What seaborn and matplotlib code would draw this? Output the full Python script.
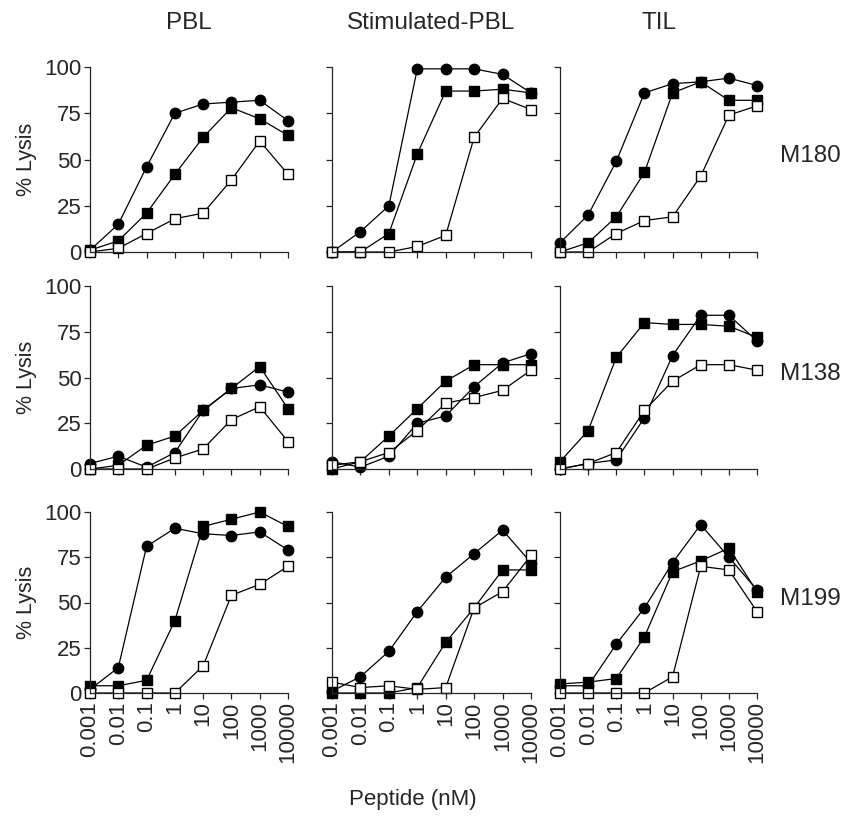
# peptide titration: % lysis per effector / target panel
import pandas as pd
import matplotlib
matplotlib.use("Agg")
import matplotlib.pyplot as plt
import seaborn as sns

conc = [0.001, 0.01, 0.1, 1, 10, 100, 1000, 10000]
conc_labels = ["0.001", "0.01", "0.1", "1", "10", "100", "1000", "10000"]
effectors = ["PBL", "Stimulated-PBL", "TIL"]
targets = ["M180", "M138", "M199"]

# circle = filled circle, fsq = filled square, osq = open square
pbl_m180_circle = [1, 15, 46, 75, 80, 81, 82, 71]
pbl_m180_fsq = [1, 6, 21, 42, 62, 78, 72, 63]
pbl_m180_osq = [0, 2, 10, 18, 21, 39, 60, 42]
stim_m180_circle = [0, 11, 25, 99, 99, 99, 96, 86]
stim_m180_fsq = [0, 0, 10, 53, 87, 87, 88, 86]
stim_m180_osq = [0, 0, 0, 3, 9, 62, 83, 77]
til_m180_circle = [5, 20, 49, 86, 91, 92, 94, 90]
til_m180_fsq = [0, 5, 19, 43, 86, 92, 82, 82]
til_m180_osq = [0, 0, 10, 17, 19, 41, 74, 79]

pbl_m138_circle = [3, 7, 1, 9, 32, 44, 46, 42]
pbl_m138_fsq = [0, 2, 13, 18, 32, 44, 56, 33]
pbl_m138_osq = [0, 0, 0, 6, 11, 27, 34, 15]
stim_m138_circle = [4, 1, 7, 25, 29, 45, 58, 63]
stim_m138_fsq = [0, 4, 18, 33, 48, 57, 57, 57]
stim_m138_osq = [2, 4, 9, 21, 36, 39, 43, 54]
til_m138_circle = [0, 3, 5, 28, 62, 84, 84, 70]
til_m138_fsq = [4, 21, 61, 80, 79, 79, 78, 72]
til_m138_osq = [0, 3, 9, 32, 48, 57, 57, 54]

pbl_m199_circle = [2, 14, 81, 91, 88, 87, 89, 79]
pbl_m199_fsq = [4, 4, 7, 40, 92, 96, 100, 92]
pbl_m199_osq = [0, 0, 0, 0, 15, 54, 60, 70]
stim_m199_circle = [1, 9, 23, 45, 64, 77, 90, 72]
stim_m199_fsq = [0, 0, 0, 3, 28, 47, 68, 68]
stim_m199_osq = [6, 3, 4, 2, 3, 47, 56, 76]
til_m199_circle = [4, 4, 27, 47, 72, 93, 75, 57]
til_m199_fsq = [5, 6, 8, 31, 67, 73, 80, 56]
til_m199_osq = [0, 0, 0, 0, 9, 70, 68, 45]

panels = {
    ("M180", "PBL"): (pbl_m180_circle, pbl_m180_fsq, pbl_m180_osq),
    ("M180", "Stimulated-PBL"): (stim_m180_circle, stim_m180_fsq, stim_m180_osq),
    ("M180", "TIL"): (til_m180_circle, til_m180_fsq, til_m180_osq),
    ("M138", "PBL"): (pbl_m138_circle, pbl_m138_fsq, pbl_m138_osq),
    ("M138", "Stimulated-PBL"): (stim_m138_circle, stim_m138_fsq, stim_m138_osq),
    ("M138", "TIL"): (til_m138_circle, til_m138_fsq, til_m138_osq),
    ("M199", "PBL"): (pbl_m199_circle, pbl_m199_fsq, pbl_m199_osq),
    ("M199", "Stimulated-PBL"): (stim_m199_circle, stim_m199_fsq, stim_m199_osq),
    ("M199", "TIL"): (til_m199_circle, til_m199_fsq, til_m199_osq),
}

sns.set_style("ticks")
plt.rcParams["font.family"] = ["Liberation Sans", "DejaVu Sans"]

fig = plt.figure(figsize=(8.59, 8.16), dpi=100)

# axes boxes in pixels (left, right) and (top, bottom)
col_px = [(90, 288), (332, 531), (560, 757)]
row_px = [(67, 252), (286, 469), (512, 693)]
W, H = 859, 816

styles = [
    dict(marker="o", markerfacecolor="black", markersize=7.5),
    dict(marker="s", markerfacecolor="black", markersize=7),
    dict(marker="s", markerfacecolor="white", markersize=7),
]

for r, tgt in enumerate(targets):
    for c, eff in enumerate(effectors):
        x0, x1 = col_px[c]
        y0, y1 = row_px[r]
        ax = fig.add_axes([x0 / W, 1 - y1 / H, (x1 - x0) / W, (y1 - y0) / H])
        for series, st in zip(panels[(tgt, eff)], styles):
            df = pd.DataFrame({"conc": conc, "lysis": series})
            sns.lineplot(data=df, x="conc", y="lysis", ax=ax, color="black",
                         linewidth=0.9, markeredgecolor="black", markeredgewidth=1.0,
                         clip_on=False, **st)
        ax.set_xscale("log")
        ax.set_xlim(0.001, 10000)
        ax.set_ylim(0, 100)
        ax.set_xticks(conc)
        ax.minorticks_off()
        ax.set_yticks([0, 25, 50, 75, 100])
        ax.set_xlabel("")
        ax.set_ylabel("")
        sns.despine(ax=ax)
        for s in ("left", "bottom"):
            ax.spines[s].set_linewidth(0.9)
        ax.tick_params(length=4, width=0.9, labelsize=16, pad=2)
        if r == 2:
            ax.set_xticklabels(conc_labels, rotation=90)
        else:
            ax.set_xticklabels([])
        if c == 0:
            ax.set_ylabel("% Lysis", fontsize=15.5, labelpad=5)
        else:
            ax.set_yticklabels([])
        if r == 0:
            fig.text((x0 + x1) / 2 / W, 1 - 23 / H, eff, fontsize=17.5,
                     ha="center", va="center")
        if c == 2:
            ax.text(1.115, 0.52, tgt, transform=ax.transAxes, fontsize=17.5,
                    va="center", ha="left")

fig.text(413 / W, 1 - 800 / H, "Peptide (nM)", ha="center", va="center", fontsize=16)
fig.savefig("out.png", dpi=100)
